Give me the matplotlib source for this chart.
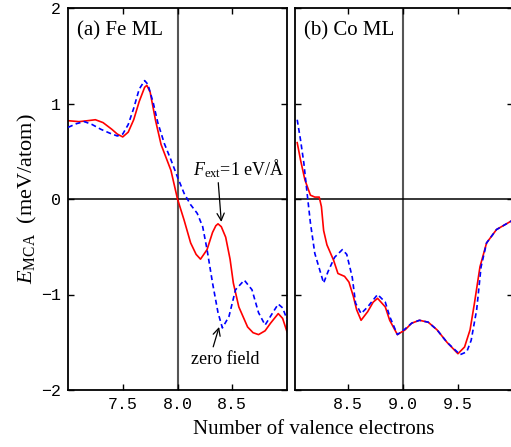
import matplotlib
matplotlib.use("Agg")
import matplotlib.pyplot as plt

plt.rcParams['font.family'] = 'Liberation Serif'
plt.rcParams['mathtext.fontset'] = 'custom'
plt.rcParams['mathtext.rm'] = 'Liberation Serif'
plt.rcParams['mathtext.it'] = 'Liberation Serif:italic'

# (a) Fe ML
fe_field_x = [7.0, 7.1, 7.18, 7.25, 7.32, 7.4, 7.45, 7.5, 7.55, 7.6, 7.65, 7.7, 7.72, 7.75,
              7.8, 7.85, 7.9, 7.94, 8.0, 8.06, 8.12, 8.17, 8.21, 8.27, 8.32, 8.35, 8.37, 8.4,
              8.44, 8.48, 8.51, 8.56, 8.64, 8.69, 8.74, 8.8, 8.85, 8.92, 8.96, 9.0]
fe_field_y = [0.82, 0.81, 0.82, 0.83, 0.80, 0.73, 0.68, 0.65, 0.70, 0.83, 1.02, 1.17, 1.19, 1.12,
              0.82, 0.57, 0.42, 0.30, 0.0, -0.22, -0.46, -0.58, -0.63, -0.53, -0.35, -0.28, -0.26, -0.29,
              -0.40, -0.63, -0.88, -1.13, -1.34, -1.40, -1.42, -1.38, -1.30, -1.20, -1.25, -1.39]
fe_zero_x = [7.0, 7.08, 7.15, 7.22, 7.3, 7.38, 7.45, 7.5, 7.55, 7.6, 7.65, 7.7, 7.73, 7.78,
             7.82, 7.88, 7.94, 8.0, 8.06, 8.12, 8.18, 8.23, 8.27, 8.32, 8.37, 8.41, 8.47,
             8.53, 8.61, 8.68, 8.74, 8.8, 8.87, 8.92, 8.96, 9.0]
fe_zero_y = [0.75, 0.79, 0.81, 0.78, 0.73, 0.69, 0.66, 0.68, 0.78, 0.95, 1.15, 1.24, 1.20, 1.0,
             0.80, 0.58, 0.41, 0.23, 0.06, -0.06, -0.15, -0.29, -0.53, -0.88, -1.19, -1.35, -1.23,
             -0.95, -0.85, -0.95, -1.19, -1.32, -1.19, -1.10, -1.14, -1.26]

# (b) Co ML
co_field_x = [8.04, 8.07, 8.11, 8.16, 8.2, 8.24, 8.26, 8.28, 8.31, 8.37, 8.41, 8.47, 8.51,
              8.55, 8.58, 8.62, 8.68, 8.73, 8.77, 8.84, 8.88, 8.95, 9.02, 9.08, 9.15, 9.23,
              9.31, 9.4, 9.5, 9.56, 9.61, 9.65, 9.7, 9.76, 9.85, 9.97, 10.0]
co_field_y = [0.59, 0.41, 0.20, 0.04, 0.02, 0.02, -0.08, -0.33, -0.48, -0.64, -0.78, -0.81, -0.87,
              -1.02, -1.16, -1.27, -1.18, -1.08, -1.04, -1.13, -1.27, -1.42, -1.37, -1.30, -1.27, -1.29,
              -1.37, -1.50, -1.62, -1.55, -1.37, -1.09, -0.71, -0.46, -0.32, -0.24, -0.22]
co_zero_x = [8.04, 8.07, 8.1, 8.13, 8.16, 8.2, 8.28, 8.32, 8.38, 8.45, 8.49, 8.54, 8.57,
             8.62, 8.68, 8.77, 8.84, 8.88, 8.95, 9.02, 9.08, 9.15, 9.23, 9.31, 9.4, 9.52,
             9.58, 9.62, 9.67, 9.71, 9.76, 9.85, 9.97, 10.0]
co_zero_y = [0.83, 0.62, 0.38, 0.06, -0.25, -0.57, -0.88, -0.76, -0.61, -0.53, -0.58, -0.82, -1.09,
             -1.20, -1.13, -1.00, -1.08, -1.23, -1.42, -1.36, -1.30, -1.27, -1.29, -1.37, -1.50, -1.63,
             -1.60, -1.48, -1.16, -0.71, -0.46, -0.32, -0.24, -0.22]

fig = plt.figure(figsize=(5.11, 4.47), dpi=100)
ax1 = fig.add_axes([68 / 511, 1 - 390 / 447, 219 / 511, 382 / 447])
ax2 = fig.add_axes([295 / 511, 1 - 390 / 447, 218 / 511, 382 / 447])

panels = [
    (ax1, fe_field_x, fe_field_y, fe_zero_x, fe_zero_y, (7.0, 9.0), 8.0, [7.5, 8.0, 8.5], "(a) Fe ML"),
    (ax2, co_field_x, co_field_y, co_zero_x, co_zero_y, (8.02, 10.0), 9.0, [8.5, 9.0, 9.5], "(b) Co ML"),
]

for ax, fx, fy, zx, zy, xlim, ef, xt, title in panels:
    ax.axvline(ef, color="#555555", lw=1.5, zorder=1)
    ax.axhline(0, color="black", lw=1.1, zorder=1)
    ax.plot(zx, zy, color="blue", lw=1.2, ls=(0, (3, 2)), zorder=3)
    ax.plot(fx, fy, color="red", lw=1.2, zorder=2)
    ax.set_xlim(*xlim)
    ax.set_ylim(-2, 2)
    ax.set_xticks(xt)
    ax.set_xticklabels([f"{v:.1f}" for v in xt], family="Liberation Mono", fontsize=12)
    ax.set_yticks([-2, -1, 0, 1, 2])
    ax.tick_params(direction="in", length=4, width=1, top=True, right=True, pad=5)
    for s in ax.spines.values():
        s.set_linewidth(1.3)
    ax.text(0.04, 0.965, title, transform=ax.transAxes, fontsize=15, va="top", ha="left")

ax1.set_yticklabels(["\u22122", "\u22121", "0", "1", "2"], family="Liberation Mono", fontsize=12)
ax2.set_yticklabels([])

fig.text(27 / 511, 1 - 199 / 447, r"$E_{\rm MCA}$  (meV/atom)", rotation=90,
         ha="center", va="center", fontsize=16)
fig.text(314 / 511, 1 - 429 / 447, "Number of valence electrons", ha="center", va="center", fontsize=15)

ax1.annotate(r"$F_{\rm ext}$=1 eV/Å", xy=(8.4, -0.24), xytext=(8.98, 0.2),
             ha="right", va="bottom", fontsize=13,
             arrowprops=dict(arrowstyle="->", color="black", lw=0.9, shrinkA=0, shrinkB=0,
                             relpos=(0.27, 0.0)))
ax1.annotate("zero field", xy=(8.38, -1.34), xytext=(8.44, -1.68),
             ha="center", va="center", fontsize=13,
             arrowprops=dict(arrowstyle="->", color="black", lw=0.9, shrinkA=1, shrinkB=0,
                             relpos=(0.3, 1.0)))

fig.savefig("out.png", dpi=100)
